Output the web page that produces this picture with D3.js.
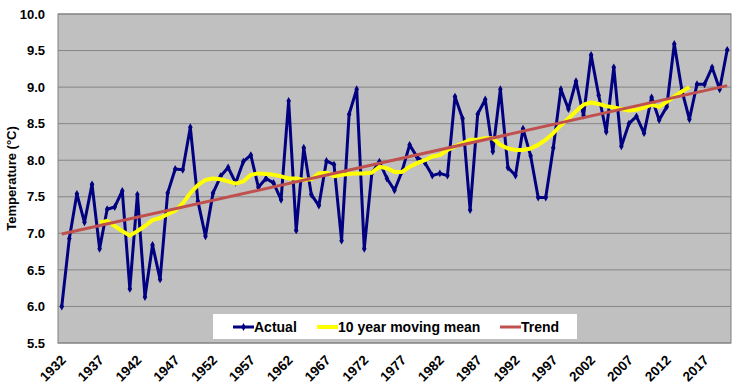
<!DOCTYPE html>
<html>
<head>
<meta charset="utf-8">
<script src="https://cdn.jsdelivr.net/npm/d3@7"></script>
<style>
  body { margin: 0; background: #fff; }
  svg text { font-family: "Liberation Sans", Arial, sans-serif; font-weight: bold; fill: #000; }
</style>
</head>
<body>
<div id="wrapper"></div>
<script>
// data
const years = d3.range(1932, 2021);
const actual = [
  6.00, 6.93, 7.54, 7.15, 7.67, 6.79, 7.33, 7.36, 7.58, 6.24,
  7.53, 6.13, 6.84, 6.37, 7.55, 7.88, 7.87, 8.45, 7.44, 6.96,
  7.55, 7.78, 7.90, 7.69, 7.98, 8.07, 7.63, 7.75, 7.69, 7.46,
  8.81, 7.04, 8.17, 7.53, 7.38, 7.99, 7.94, 6.90, 8.63, 8.97,
  6.79, 7.82, 7.98, 7.75, 7.59, 7.85, 8.21, 8.04, 7.97, 7.79,
  7.82, 7.79, 8.87, 8.57, 7.32, 8.63, 8.83, 8.12, 8.97, 7.90,
  7.79, 8.43, 8.06, 7.49, 7.49, 8.17, 8.97, 8.70, 9.08, 8.61,
  9.44, 8.89, 8.39, 9.27, 8.19, 8.50, 8.60, 8.37, 8.86, 8.55,
  8.73, 9.59, 8.96, 8.56, 9.04, 9.04, 9.27, 8.97, 9.51
];
const meanStartYear = 1937;
const movingMean = [
  7.15, 7.17, 7.10, 7.03, 6.97, 7.03, 7.10, 7.18, 7.21, 7.26,
  7.31, 7.41, 7.55, 7.66, 7.73, 7.75, 7.74, 7.71, 7.68, 7.71,
  7.80, 7.82, 7.81, 7.80, 7.78, 7.75, 7.75, 7.73, 7.74, 7.82,
  7.83, 7.78, 7.80, 7.81, 7.82, 7.82, 7.83, 7.91, 7.89, 7.84,
  7.84, 7.91, 7.96, 8.00, 8.05, 8.07, 8.14, 8.19, 8.23, 8.28,
  8.28, 8.30, 8.30, 8.21, 8.16, 8.14, 8.14, 8.16, 8.21, 8.28,
  8.37, 8.48, 8.57, 8.67, 8.76, 8.79, 8.77, 8.74, 8.72, 8.70,
  8.68, 8.69, 8.72, 8.76, 8.73, 8.80, 8.87, 8.94, 9.00
];
const trendYears = [1932, 2020];
const trendValues = [6.99, 9.02];
const yTicks = [5.5, 6.0, 6.5, 7.0, 7.5, 8.0, 8.5, 9.0, 9.5, 10.0];
const xTickYears = years.filter((y) => (y - 1932) % 5 === 0);
const legendItems = ["Actual", "10 year moving mean", "Trend"];

const dimensions = {
  width: 737,
  height: 386,
  margins: { top: 14, right: 6, bottom: 43, left: 58 },
};
dimensions.boundedWidth = dimensions.width - dimensions.margins.left - dimensions.margins.right;
dimensions.boundedHeight = dimensions.height - dimensions.margins.top - dimensions.margins.bottom;

const svg = d3.select("#wrapper")
  .append("svg")
  .attr("width", dimensions.width)
  .attr("height", dimensions.height);

const bounds = svg.append("g")
  .attr("transform", `translate(${dimensions.margins.left}, ${dimensions.margins.top})`);

const xScale = d3.scaleBand().domain(years).range([0, dimensions.boundedWidth]);
const xPos = (year) => xScale(year) + xScale.bandwidth() / 2;
const yScale = d3.scaleLinear().domain([5.5, 10]).range([dimensions.boundedHeight, 0]);

// plot area
bounds.append("rect")
  .attr("width", dimensions.boundedWidth)
  .attr("height", dimensions.boundedHeight)
  .attr("fill", "#c0c0c0");

bounds.append("g")
  .selectAll("line")
  .data(yTicks)
  .join("line")
  .attr("x1", 0)
  .attr("x2", dimensions.boundedWidth)
  .attr("y1", (d) => yScale(d))
  .attr("y2", (d) => yScale(d))
  .attr("stroke", "#858585")
  .attr("stroke-width", 1);

bounds.append("rect")
  .attr("width", dimensions.boundedWidth)
  .attr("height", dimensions.boundedHeight)
  .attr("fill", "none")
  .attr("stroke", "#808080")
  .attr("stroke-width", 1);

// axes
const yAxis = bounds.append("g")
  .call(d3.axisLeft(yScale).tickValues(yTicks).tickFormat(d3.format(".1f")).tickSize(0).tickPadding(13));
yAxis.select(".domain").remove();
yAxis.selectAll("text").style("font-size", "13px").attr("font-family", null);

const xAxis = bounds.append("g")
  .attr("transform", `translate(0, ${dimensions.boundedHeight})`)
  .call(d3.axisBottom(xScale).tickValues(xTickYears).tickSize(0));
xAxis.select(".domain").remove();
xAxis.selectAll("text")
  .attr("font-family", null)
  .style("font-size", "13.5px")
  .attr("text-anchor", "end")
  .attr("dy", 0)
  .attr("y", 0)
  .attr("transform", "translate(5, 18) rotate(-45)");

svg.append("text")
  .attr("transform", `translate(16, ${dimensions.margins.top + dimensions.boundedHeight / 2}) rotate(-90)`)
  .attr("text-anchor", "middle")
  .style("font-size", "13px")
  .text("Temperature (°C)");

// series
const trendData = trendYears.map((y, i) => ({ year: y, value: trendValues[i] }));
const meanData = movingMean.map((v, i) => ({ year: meanStartYear + i, value: v }));
const actualData = actual.map((v, i) => ({ year: years[i], value: v }));

const lineGenerator = d3.line()
  .x((d) => xPos(d.year))
  .y((d) => yScale(d.value));

bounds.append("path")
  .attr("d", lineGenerator(actualData))
  .attr("fill", "none")
  .attr("stroke", "#000080")
  .attr("stroke-width", 3)
  .attr("stroke-linejoin", "round");

bounds.append("g")
  .selectAll("path")
  .data(actualData)
  .join("path")
  .attr("transform", (d) => `translate(${xPos(d.year)}, ${yScale(d.value)})`)
  .attr("d", d3.symbol(d3.symbolDiamond, 18))
  .attr("fill", "#000080");

bounds.append("path")
  .attr("d", lineGenerator(meanData))
  .attr("fill", "none")
  .attr("stroke", "#ffff00")
  .attr("stroke-width", 4)
  .attr("stroke-linejoin", "round");

bounds.append("path")
  .attr("d", lineGenerator(trendData))
  .attr("fill", "none")
  .attr("stroke", "#c0504d")
  .attr("stroke-width", 3);

// legend
const legend = svg.append("g").attr("transform", "translate(213, 314)");
legend.append("rect")
  .attr("width", 364)
  .attr("height", 25)
  .attr("fill", "#fff");

const legendX = [20, 104, 287];
const legendColors = ["#000080", "#ffff00", "#c0504d"];
legendItems.forEach((name, i) => {
  const g = legend.append("g").attr("transform", `translate(${legendX[i]}, 13)`);
  g.append("line")
    .attr("x1", 0).attr("x2", 21)
    .attr("stroke", legendColors[i])
    .attr("stroke-width", i === 1 ? 4 : 3);
  if (i === 0) {
    g.append("path")
      .attr("transform", "translate(10.5, 0)")
      .attr("d", d3.symbol(d3.symbolDiamond, 18))
      .attr("fill", "#000080");
  }
  g.append("text")
    .attr("x", 21)
    .attr("dy", "0.36em")
    .style("font-size", "14px")
    .text(name);
});
</script>
</body>
</html>
